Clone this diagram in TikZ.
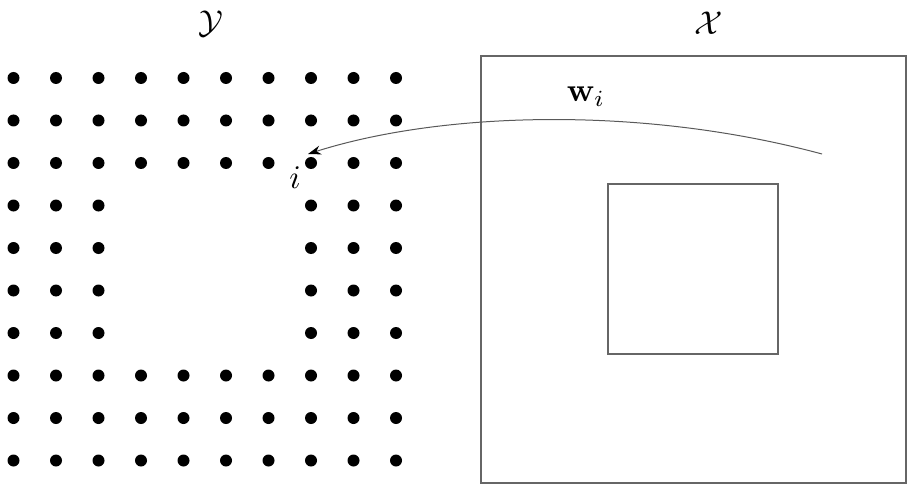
\documentclass[tikz,border=0pt]{standalone}
\usepackage{amsmath,amssymb,graphicx}
\usetikzlibrary{arrows.meta}
\newcommand{\bigtxt}[1]{\scalebox{3.3}{#1}}
\begin{document}
\begin{tikzpicture}[x=1pt,y=-1pt,
  gridot/.style={circle,fill=black,inner sep=0pt,minimum size=12pt},
  boxline/.style={draw=black!60,line width=1.6pt},
  lbl/.style={inner sep=0pt},
  curvearrow/.style={draw=black!65,line width=1pt,-{Stealth[length=13pt,width=9pt,black]}}]
\useasboundingbox (0,0) rectangle (920,489);
\foreach \c in {0,...,9}{
  \foreach \r in {0,...,9}{
    \pgfmathtruncatemacro{\hole}{(\c>2)&&(\c<7)&&(\r>2)&&(\r<7)}
    \ifnum\hole=0
      \node[gridot] (d-\c-\r) at ({13.5+42.5*\c},{78+42.5*\r}) {};
    \fi
  }
}
\node[lbl] (ylab) at (211,24) {\bigtxt{$\mathcal{Y}$}};
\node[lbl] (xlab) at (709,23) {\bigtxt{$\mathcal{X}$}};
\draw[boxline] (481,56) rectangle (906,483);
\draw[boxline] (608,184) rectangle (778,354);
\coordinate (start) at (822,154);
\coordinate (tip) at (308,154);
\draw[curvearrow] (start) .. controls (640,105) and (440,112) .. (tip);
\node[lbl] (wlab) at (586,97) {\bigtxt{$\mathbf{w}_i$}};
\node[lbl] (ilab) at (295,178) {\bigtxt{$i$}};
\end{tikzpicture}
\end{document}
